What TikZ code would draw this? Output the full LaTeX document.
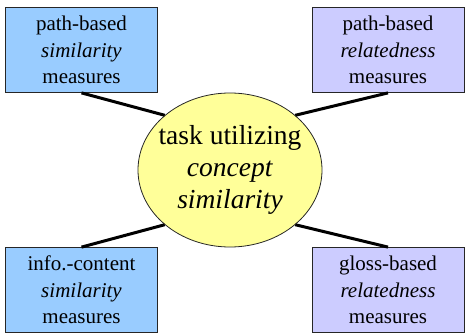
\documentclass[tikz,border=0pt]{standalone}
\usepackage{fontspec}
\setmainfont{Liberation Serif}
\newfontfamily\timesfont{Liberation Serif}
\usetikzlibrary{shapes.geometric}
\definecolor{boxblue}{HTML}{99CCFF}
\definecolor{boxlav}{HTML}{CCCCFF}
\definecolor{ellyel}{HTML}{FFFF99}
\begin{document}
\begin{tikzpicture}[x=1pt,y=1pt,
  mbox/.style={draw=black!85, line width=0.8pt, minimum width=152pt, minimum height=85pt,
    inner sep=0pt, align=center, font=\timesfont\fontsize{21}{26.5}\selectfont},
  link/.style={line width=3pt, black}]
\useasboundingbox (0,0) rectangle (466,335);
\node[mbox, fill=boxblue] (tl) at (81.5,285) {path-based\\\textit{similarity}\\measures};
\node[mbox, fill=boxlav] (tr) at (388,285) {path-based\\\textit{relatedness}\\measures};
\node[mbox, fill=boxblue] (bl) at (81.5,45) {info.-content\\\textit{similarity}\\measures};
\node[mbox, fill=boxlav] (br) at (388,45) {gloss-based\\\textit{relatedness}\\measures};
\node[ellipse, draw=black!85, line width=0.8pt, fill=ellyel, minimum width=184pt, minimum height=154pt,
  inner sep=0pt] (el) at (230,165) {};
\node[align=center, inner sep=0pt, font=\timesfont\fontsize{27.5}{32}\selectfont] (eltext) at (el.center)
  {task utilizing\\\textit{concept}\\\textit{similarity}};
\draw[link] (tl.south) -- (el.north west);
\draw[link] (tr.south) -- (el.north east);
\draw[link] (bl.north) -- (el.south west);
\draw[link] (br.north) -- (el.south east);
\end{tikzpicture}
\end{document}
